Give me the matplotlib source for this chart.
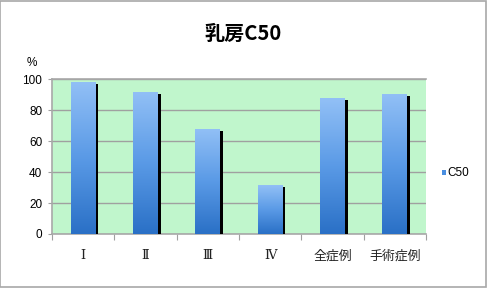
import numpy as np
import matplotlib.pyplot as plt
import matplotlib.patheffects as pe
from matplotlib.colors import LinearSegmentedColormap
from matplotlib.patches import Rectangle

# Data
categories = ['Ⅰ', 'Ⅱ', 'Ⅲ', 'Ⅳ', '全症例', '手術症例']
c50 = [98.2, 91.7, 67.9, 31.6, 87.6, 90.6]
y_ticks = [0, 20, 40, 60, 80, 100]

plt.rcParams['font.family'] = ['Liberation Sans', 'Noto Sans CJK JP']

fig = plt.figure(figsize=(4.87, 2.88), dpi=100, facecolor='white')
# grey frame round the whole chart
fig.patches.append(Rectangle((0.001, 0.002), 0.997, 0.995, transform=fig.transFigure,
                             fill=False, edgecolor='#a8a8a8', linewidth=1.2))

ax = fig.add_axes([0.1068, 0.1875, 0.768, 0.538])
ax.set_facecolor('#c0f6cc')

x = np.arange(len(categories))
width = 0.4
bars = ax.bar(x, c50, width=width, color='none', zorder=3,
              path_effects=[pe.SimplePatchShadow(offset=(2.0, -1.6), shadow_rgbFace='black', alpha=1.0),
                            pe.Normal()])

# gradient fill for each bar, light on top to dark at the base
cmap = LinearSegmentedColormap.from_list('blu', ['#2a70c6', '#5a9ae6', '#92c0f6'])
grad = np.linspace(0, 1, 256).reshape(-1, 1)
for b in bars:
    x0, y0 = b.get_x(), b.get_y()
    im = ax.imshow(grad, cmap=cmap, origin='lower', aspect='auto', zorder=4,
                   extent=[x0, x0 + b.get_width(), y0, y0 + b.get_height()])
    im.set_clip_path(b)

ax.set_xlim(-0.5, len(categories) - 0.5)
ax.set_ylim(0, 100)
ax.set_yticks(y_ticks)
ax.set_yticklabels([str(v) for v in y_ticks], fontsize=8.5)
ax.yaxis.grid(True, color='#a0a0a0', linewidth=1)
ax.set_axisbelow(True)

# category labels centred, tick marks between categories
ax.set_xticks(np.arange(len(categories) + 1) - 0.5)
ax.set_xticklabels([])
ax.tick_params(axis='x', length=4, color='#a0a0a0', direction='out')
ax.tick_params(axis='y', length=3, color='#a0a0a0', pad=4)
for i, lab in enumerate(categories):
    fam = ['DejaVu Serif', 'Noto Sans CJK JP'] if i < 4 else ['Noto Sans CJK JP']
    ax.text(i, -14, lab, ha='center', va='center', fontsize=9.3, family=fam,
            color='#222222')

for s in ['top', 'left', 'bottom']:
    ax.spines[s].set_color('#a8a8a8')
    ax.spines[s].set_linewidth(1.2)
ax.spines['right'].set_visible(False)

fig.text(0.5, 0.882, '乳房C50', ha='center', va='center', fontsize=14.5, fontweight='bold',
         family=['Noto Sans CJK JP'])
fig.text(0.066, 0.782, '%', ha='center', va='center', fontsize=8.5)

# legend
fig.patches.append(Rectangle((0.907, 0.393), 0.009, 0.016, transform=fig.transFigure,
                             facecolor='#4a8ee0', edgecolor='none'))
fig.text(0.919, 0.399, 'C50', ha='left', va='center', fontsize=8.5)

fig.savefig('out.png', dpi=100)
